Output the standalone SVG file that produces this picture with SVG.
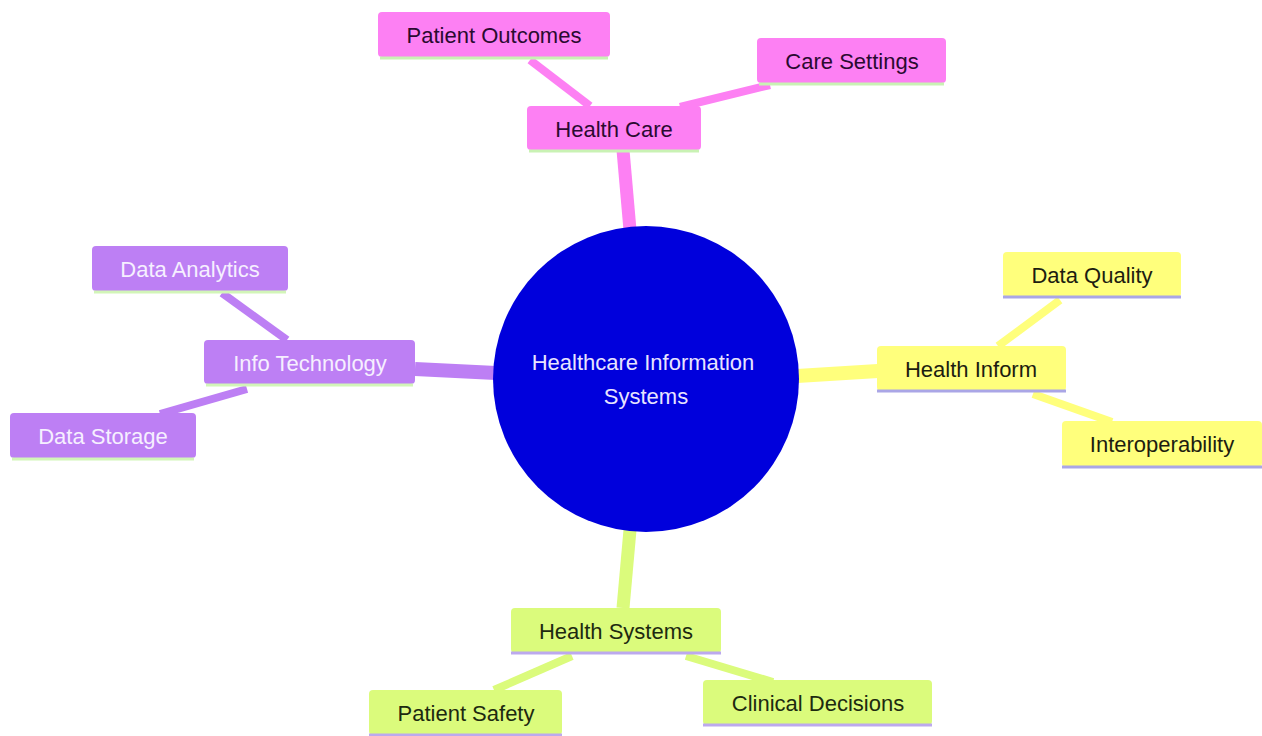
<svg xmlns="http://www.w3.org/2000/svg" width="1262" height="736" viewBox="0 0 1262 736">
<style>
text{font-family:"Liberation Sans",Arial,sans-serif;font-size:22px;text-anchor:middle;dominant-baseline:central}
.pk rect.b{fill:#fd80f3}.pk line{stroke:#c9f2b4}.pk text{fill:#2a0a30}
.pu rect.b{fill:#bd7ff4}.pu line{stroke:#d2f5b8}.pu text{fill:#f6efff}
.ye rect.b{fill:#ffff7c}.ye line{stroke:#aaa6e6}.ye text{fill:#1d1d10}
.gr rect.b{fill:#dbfb7c}.gr line{stroke:#bca9ee}.gr text{fill:#1d2a10}
.n line{stroke-width:3}
.e{fill:none;stroke-linecap:butt}
</style>
<rect width="1262" height="736" fill="#ffffff"/>
<g id="connectors">
<line class="e" x1="623" y1="150" x2="630" y2="230" stroke="#fd80f3" stroke-width="13"/>
<line class="e" x1="415" y1="369" x2="496" y2="373" stroke="#bd7ff4" stroke-width="14"/>
<line class="e" x1="797" y1="376" x2="878" y2="371" stroke="#ffff7c" stroke-width="14"/>
<line class="e" x1="630" y1="530" x2="623" y2="608" stroke="#dbfb7c" stroke-width="13"/>
<line class="e" x1="530" y1="60" x2="590" y2="106" stroke="#fd80f3" stroke-width="8"/>
<line class="e" x1="770" y1="85" x2="680" y2="107" stroke="#fd80f3" stroke-width="8"/>
<line class="e" x1="222" y1="293" x2="287" y2="340" stroke="#bd7ff4" stroke-width="8"/>
<line class="e" x1="160" y1="414" x2="247" y2="389" stroke="#bd7ff4" stroke-width="8"/>
<line class="e" x1="1060" y1="300" x2="998" y2="346" stroke="#ffff7c" stroke-width="8"/>
<line class="e" x1="1033" y1="394" x2="1112" y2="422" stroke="#ffff7c" stroke-width="8"/>
<line class="e" x1="572" y1="656" x2="494" y2="690" stroke="#dbfb7c" stroke-width="8"/>
<line class="e" x1="686" y1="656" x2="773" y2="682" stroke="#dbfb7c" stroke-width="8"/>
</g>
<g id="root">
<circle cx="646" cy="379" r="153" fill="#0000dc"/>
<text x="643" y="362" fill="#e8e4ff">Healthcare Information</text>
<text x="646" y="396" fill="#e8e4ff">Systems</text>
</g>
<g id="health-care" class="n pk"><rect class="b" x="527" y="106" width="174" height="44" rx="4"/><line x1="529" y1="151" x2="699" y2="151"/><text x="614" y="129">Health Care</text></g>
<g id="patient-outcomes" class="n pk"><rect class="b" x="378" y="12" width="232" height="45" rx="4"/><line x1="380" y1="58" x2="608" y2="58"/><text x="494" y="35">Patient Outcomes</text></g>
<g id="care-settings" class="n pk"><rect class="b" x="757" y="38" width="189" height="45" rx="4"/><line x1="759" y1="84" x2="944" y2="84"/><text x="852" y="61">Care Settings</text></g>
<g id="info-technology" class="n pu"><rect class="b" x="204" y="340" width="211" height="44" rx="4"/><line x1="206" y1="385" x2="413" y2="385"/><text x="310" y="363">Info Technology</text></g>
<g id="data-analytics" class="n pu"><rect class="b" x="92" y="246" width="196" height="45" rx="4"/><line x1="94" y1="292" x2="286" y2="292"/><text x="190" y="269">Data Analytics</text></g>
<g id="data-storage" class="n pu"><rect class="b" x="10" y="413" width="186" height="45" rx="4"/><line x1="12" y1="459" x2="194" y2="459"/><text x="103" y="436">Data Storage</text></g>
<g id="health-inform" class="n ye"><rect class="b" x="877" y="346" width="189" height="45" rx="4"/><line x1="877" y1="391" x2="1066" y2="391"/><text x="971" y="369">Health Inform</text></g>
<g id="data-quality" class="n ye"><rect class="b" x="1003" y="252" width="178" height="45" rx="4"/><line x1="1003" y1="297" x2="1181" y2="297"/><text x="1092" y="275">Data Quality</text></g>
<g id="interoperability" class="n ye"><rect class="b" x="1062" y="421" width="200" height="46" rx="4"/><line x1="1062" y1="467" x2="1262" y2="467"/><text x="1162" y="444">Interoperability</text></g>
<g id="health-systems" class="n gr"><rect class="b" x="511" y="608" width="210" height="45" rx="4"/><line x1="511" y1="653" x2="721" y2="653"/><text x="616" y="631">Health Systems</text></g>
<g id="patient-safety" class="n gr"><rect class="b" x="369" y="690" width="193" height="45" rx="4"/><line x1="369" y1="735" x2="562" y2="735"/><text x="466" y="713">Patient Safety</text></g>
<g id="clinical-decisions" class="n gr"><rect class="b" x="703" y="680" width="229" height="45" rx="4"/><line x1="703" y1="725" x2="932" y2="725"/><text x="818" y="703">Clinical Decisions</text></g>
</svg>
